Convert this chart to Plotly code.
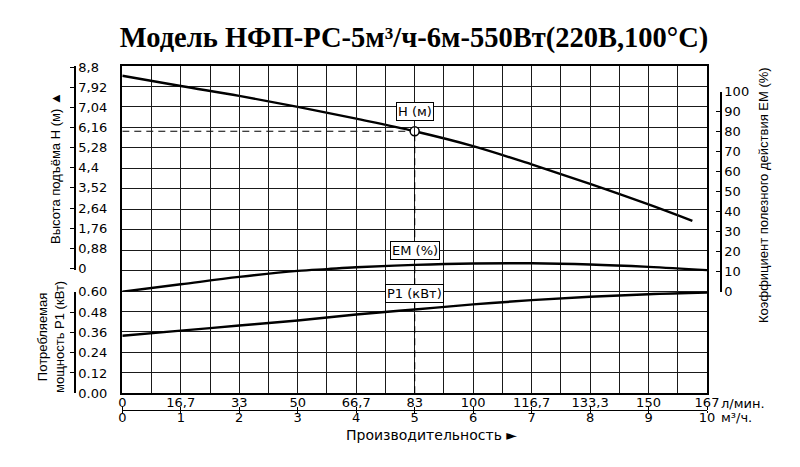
import plotly.graph_objects as go

# ---------------- data ----------------
q_head = [0, 1, 2, 3, 4, 5, 6, 7, 8, 9, 9.75]
head_m = [8.43, 7.98, 7.55, 7.07, 6.55, 6.0, 5.35, 4.55, 3.7, 2.8, 2.08]

q_eff = [0, 1, 2, 3, 3.5, 4, 5, 6, 7, 8, 9, 10]
eff_pct = [0, 3.7, 7.4, 10.4, 11.3, 12.2, 13.4, 14.1, 14.2, 13.6, 12.4, 10.8]

q_pow = [0, 1, 2, 3, 4, 5, 6, 7, 8, 9, 10]
power_kw = [0.34, 0.37, 0.40, 0.43, 0.465, 0.495, 0.525, 0.55, 0.57, 0.585, 0.595]

duty_q = 5
duty_h = 6

h_tickvals = [0, 0.88, 1.76, 2.64, 3.52, 4.4, 5.28, 6.16, 7.04, 7.92, 8.8]
h_ticktext = ["0", "0,88", "1,76", "2,64", "3,52", "4,4", "5,28", "6,16", "7,04", "7,92", "8,8"]
p_tickvals = [0, 0.12, 0.24, 0.36, 0.48, 0.60]
p_ticktext = ["0.00", "0.12", "0.24", "0.36", "0.48", "0.60"]
em_tickvals = [0, 10, 20, 30, 40, 50, 60, 70, 80, 90, 100]
q_tickvals = [0, 1, 2, 3, 4, 5, 6, 7, 8, 9, 10]
lpm_ticktext = ["0", "16,7", "33", "50", "66,7", "83", "100", "116,7", "133,3", "150", "167"]
m3h_ticktext = ["0", "1", "2", "3", "4", "5", "6", "7", "8", "9", "10"]

title_text = "Модель НФП-РС-5м³/ч-6м-550Вт(220В,100°С)"

# ---------------- layout geometry ----------------
# The page body has an 8px margin, so the figure is drawn 8px right/down of the window corner.
OFF = 8
W, H = 800 - OFF, 467 - OFF
# target screen positions (px)
AX_L, AX_R, AX_B, TOP = 75, 721, 410, 66
ML = AX_L - OFF
MR = W - (AX_R - OFF)
MT = TOP - OFF
MB = H - (AX_B - OFF)
PW = W - ML - MR
PH = H - MT - MB


def px(xs):
    return (xs - AX_L) / PW


def py(ys):
    return (AX_B - ys) / PH


gx = [px(122.3), px(707)]
gy = [py(393.3), 1.0]
h_dom = [py(270), py(66)]
h_rng = [-(270 - 268.3) * 8.8 / 201, 8.8 + (67.3 - 66) * 8.8 / 201]
em_dom = [py(291.7), py(91.7)]
p_dom = [py(393.3), py(291.7)]

FONT = "DejaVu Sans"
BLACK = "#000000"

fig = go.Figure()

# empty traces so that the grid subplot and the two bottom scales exist
for xa in ["x", "x2", "x3"]:
    fig.add_trace(go.Scatter(x=[], y=[], xaxis=xa, yaxis="y", showlegend=False, hoverinfo="skip"))

# curves
fig.add_trace(go.Scatter(x=q_head, y=head_m, xaxis="x", yaxis="y2", mode="lines",
                         line=dict(color=BLACK, width=2.4, shape="spline"), showlegend=False))
fig.add_trace(go.Scatter(x=q_eff, y=eff_pct, xaxis="x", yaxis="y3", mode="lines",
                         line=dict(color=BLACK, width=2.4, shape="spline"), showlegend=False))
fig.add_trace(go.Scatter(x=q_pow, y=power_kw, xaxis="x", yaxis="y4", mode="lines",
                         line=dict(color=BLACK, width=2.4, shape="spline"), showlegend=False))
# duty point dashed horizontal + marker
fig.add_trace(go.Scatter(x=[0, duty_q], y=[duty_h, duty_h], xaxis="x", yaxis="y2", mode="lines",
                         line=dict(color=BLACK, width=1.2, dash="7px,5px"), showlegend=False))

# vertical dashed line from bottom of grid up to duty point
duty_paper_y = h_dom[0] + (duty_h - h_rng[0]) / (h_rng[1] - h_rng[0]) * (h_dom[1] - h_dom[0])
fig.add_shape(type="line", xref="x", yref="paper", x0=duty_q, x1=duty_q,
              y0=gy[0], y1=duty_paper_y, line=dict(color=BLACK, width=1.2, dash="7px,5px"))

fig.add_trace(go.Scatter(x=[duty_q], y=[duty_h], xaxis="x", yaxis="y2", mode="markers",
                         marker=dict(size=9, color="white", line=dict(color=BLACK, width=1.5)),
                         showlegend=False))

grid_axis = dict(showgrid=True, gridcolor="#1a1a1a", gridwidth=1, showticklabels=False, ticks="",
                 showline=True, mirror=True, linecolor=BLACK, linewidth=1.5, zeroline=False)
scale_axis = dict(showline=True, linecolor=BLACK, linewidth=1.5, showgrid=False, zeroline=False,
                  tickcolor=BLACK, tickfont=dict(size=13, family=FONT, color=BLACK))

fig.update_layout(
    width=W, height=H,
    margin=dict(l=ML, r=MR, t=MT, b=MB),
    paper_bgcolor="white", plot_bgcolor="rgba(0,0,0,0)",
    title=dict(text=title_text, x=(414 - OFF) / W, xanchor="center", y=1 - (37 - OFF) / H,
               yanchor="middle",
               font=dict(family="Liberation Serif", size=28.5, color=BLACK, weight="bold")),
    font=dict(family=FONT, size=13, color=BLACK),
    xaxis=dict(domain=gx, range=[0, 10], anchor="y", tick0=0, dtick=0.5, **grid_axis),
    yaxis=dict(domain=gy, range=[0, 16], anchor="x", tick0=0, dtick=1, **grid_axis),
    yaxis2=dict(domain=h_dom, range=h_rng, anchor="free", position=0, side="right",
                tickvals=h_tickvals, ticktext=h_ticktext, ticks="inside", ticklen=4, **scale_axis),
    yaxis3=dict(domain=em_dom, range=[0, 100], anchor="free", position=1, side="right",
                tickvals=em_tickvals, ticks="inside", ticklen=4, **scale_axis),
    yaxis4=dict(domain=p_dom, range=[0, 0.6], anchor="free", position=0, side="right",
                tickvals=p_tickvals, ticktext=p_ticktext, ticks="inside", ticklen=4, **scale_axis),
    xaxis2=dict(domain=gx, range=[0, 10], anchor="free", position=0, overlaying="x", side="top",
                tickvals=q_tickvals, ticktext=lpm_ticktext, ticks="outside", ticklen=3,
                ticklabelstandoff=-5, **scale_axis),
    xaxis3=dict(domain=gx, range=[0, 10], anchor="free", position=0, overlaying="x", side="bottom",
                tickvals=q_tickvals, ticktext=m3h_ticktext, ticks="outside", ticklen=2,
                ticklabelstandoff=-7, **scale_axis),
)
fig.update_layout(xaxis2_linewidth=1.2, xaxis3_linewidth=1.2)

box = dict(bgcolor="white", bordercolor=BLACK, borderwidth=1, borderpad=1, showarrow=False,
           font=dict(size=13, color=BLACK, family=FONT))
fig.add_annotation(text="H (м)", xref="x", yref="y2", x=duty_q, y=6.86, **box)
fig.add_annotation(text="EM (%)", xref="x", yref="y3", x=duty_q, y=20.6, **box)
fig.add_annotation(text="P1 (кВт)", xref="x", yref="y4", x=duty_q, y=0.587, **box)

plain = dict(showarrow=False, font=dict(size=13, color=BLACK, family=FONT))
fig.add_annotation(text="л/мин.", xref="paper", yref="paper", x=px(719), y=py(403.3),
                   xanchor="left", yanchor="middle", **plain)
fig.add_annotation(text="м³/ч.", xref="paper", yref="paper", x=px(719), y=py(417),
                   xanchor="left", yanchor="middle", **plain)
fig.add_annotation(text="Производительность ►", xref="paper", yref="paper", x=px(431), y=py(435),
                   xanchor="center", yanchor="middle", showarrow=False,
                   font=dict(size=14, color=BLACK, family=FONT))

rot = dict(showarrow=False, textangle=-90, font=dict(size=13, color=BLACK, family="Liberation Sans"))
fig.add_annotation(text="Высота подъёма H (м) ▲", xref="paper", yref="paper", x=px(55), y=py(168),
                   xanchor="center", yanchor="middle", **rot)
fig.add_annotation(text="Потребляемая<br>мощность P1 (кВт)", xref="paper", yref="paper",
                   x=px(51), y=py(337), xanchor="center", yanchor="middle", **rot)
fig.add_annotation(text="Коэффициент полезного действия EM (%)", xref="paper", yref="paper",
                   x=px(763), y=py(195), xanchor="center", yanchor="middle", **rot)

fig.write_html("out.html")
